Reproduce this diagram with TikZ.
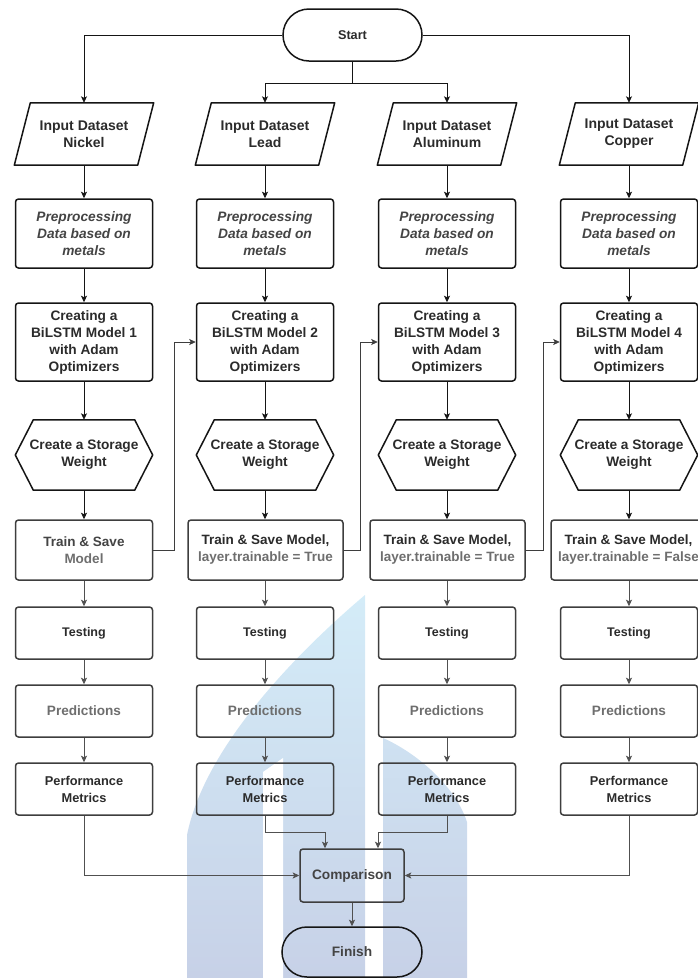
\documentclass[tikz,border=0pt]{standalone}
\usepackage{fontspec}
\setmainfont{Liberation Sans}
\usetikzlibrary{arrows.meta,shapes.misc}
\definecolor{wmtop}{HTML}{D4ECF8}
\definecolor{wmbot}{HTML}{C7D1E7}
\definecolor{tdark}{HTML}{2B2B2B}
\definecolor{tmid}{HTML}{444444}
\definecolor{tlight}{HTML}{6E6E6E}
\definecolor{edark}{HTML}{151515}
\definecolor{egrey}{HTML}{3E3E3E}
\definecolor{agrey}{HTML}{505050}
\begin{document}
\begin{tikzpicture}[x=1pt,y=-1pt,
  every node/.style={inner sep=0pt, align=center},
  txt/.style={font=\fontsize{#1}{17}\selectfont\bfseries},
  txt/.default=13.7,
  term/.style={rounded rectangle, draw=edark, line width=1.5pt, minimum width=139pt, minimum height=52pt, txt, text=tdark},
  io/.style={rectangle, minimum width=123pt, minimum height=62pt, txt=14, text=tdark},
  iofr/.style={draw=edark, line width=1.5pt, line join=round},
  proc/.style={rectangle, rounded corners=3pt, draw=edark, line width=1.5pt, minimum width=137pt, txt, text=tdark},
  procg/.style={rectangle, rounded corners=3pt, draw=egrey, line width=1.5pt, minimum width=137pt, minimum height=52pt, txt, text=tdark},
  hexbox/.style={rectangle, minimum width=137pt, minimum height=70pt, txt, text=tdark},
  arr/.style={draw=edark, line width=0.8pt, -{Stealth[length=6.5pt,width=6pt,inset=1.5pt]}},
  arrg/.style={draw=agrey, line width=0.8pt, -{Stealth[length=6.5pt,width=6pt,inset=1.5pt]}},
]
\useasboundingbox (0,0) rectangle (697,978);
% watermark
\shade[top color=wmtop, bottom color=wmbot] (365,595) .. controls (300,650) and (205,745) .. (187,835) -- (187,978) -- (365,978) -- cycle;
\fill[white] (263,978) -- (263,772) -- (283,758) -- (283,978) -- cycle;
\shade[top color=wmtop!60!wmbot, bottom color=wmbot] (383,738) .. controls (415,752) and (455,785) .. (467,822) -- (467,978) -- (383,978) -- cycle;

% start
\node[term, txt=12.7] (st) at (352.5,35) {Start};
% inputs
\node[io] (in1) at (84,134) {Input Dataset\\Nickel};
\node[io] (in2) at (265,134) {Input Dataset\\Lead};
\node[io] (in3) at (447,134) {Input Dataset\\Aluminum};
\node[io] (in4) at (629,134) {Input Dataset\\Copper};
\foreach \n in {in1,in2,in3,in4}
  \draw[iofr] ([xshift=-8pt]\n.south west) -- ([xshift=8pt]\n.north west) -- ([xshift=8pt]\n.north east) -- ([xshift=-8pt]\n.south east) -- cycle;
% preprocessing
\foreach \n/\x in {pr1/84,pr2/265,pr3/447,pr4/629}
  \node[proc, minimum height=69pt, font=\fontsize{13.7}{17}\selectfont\bfseries\itshape, text=tmid] (\n) at (\x,233.5) {Preprocessing\\Data based on\\metals};
% creating
\foreach \n/\x/\k in {cr1/84/1,cr2/265/2,cr3/447/3,cr4/629/4}
  \node[proc, minimum height=78pt] (\n) at (\x,342) {Creating a\\BiLSTM Model \k\\with Adam\\Optimizers};
% hexagons
\foreach \n/\x in {h1/84,h2/265,h3/447,h4/629}
  \node[hexbox] (\n) at (\x,455) {Create a Storage\\Weight};
\foreach \n in {h1,h2,h3,h4}
  \draw[iofr] (\n.west) -- ([xshift=18pt]\n.north west) -- ([xshift=-18pt]\n.north east) -- (\n.east) -- ([xshift=-18pt]\n.south east) -- ([xshift=18pt]\n.south west) -- cycle;
% train
\node[procg, minimum height=60pt, txt=13.5, text=tmid] (t1) at (84,550) {Train \& Save\\{\color{tlight}Model}};
\node[procg, minimum height=60pt, minimum width=155pt, txt=13.5] (t2) at (265.5,550) {Train \& Save Model,\\{\color{tlight}layer.trainable = True}};
\node[procg, minimum height=60pt, minimum width=155pt, txt=13.5] (t3) at (447.5,550) {Train \& Save Model,\\{\color{tlight}layer.trainable = True}};
\node[procg, minimum height=60pt, minimum width=155pt, txt=13.5] (t4) at (628.5,550) {Train \& Save Model,\\{\color{tlight}layer.trainable = False}};
% testing, predictions, metrics
\foreach \k/\x in {1/84,2/265,3/447,4/629}{
  \node[procg, txt=12.5] (te\k) at (\x,633) {Testing};
  \node[procg, txt=13.6, text=tlight] (pd\k) at (\x,711) {Predictions};
  \node[procg, txt=12.8] (pm\k) at (\x,789) {Performance\\Metrics};
}
% comparison and finish
\node[proc, minimum width=104pt, minimum height=53pt, draw=egrey, text=tmid] (cmp) at (352,875.5) {Comparison};
\node[term, minimum width=140pt, minimum height=50pt, text=tmid, draw=edark] (fin) at (352,952) {Finish};

% connectors from start
\draw[arr] (st.west) -| (in1.north);
\draw[arr] (st.east) -| (in4.north);
\draw[arr] (st.south) -- ++(0,22) -| (in2.north);
\draw[arr] (st.south) -- ++(0,22) -| (in3.north);
% column chains
\foreach \k in {1,2,3,4}{
  \draw[arr] (in\k.south) -- (pr\k.north);
  \draw[arr] (pr\k.south) -- (cr\k.north);
  \draw[arr] (cr\k.south) -- (h\k.north);
  \draw[arr] (h\k.south) -- (t\k.north -| h\k.south);
  \draw[arrg] (t\k.south -| te\k.north) -- (te\k.north);
  \draw[arrg] (te\k.south) -- (pd\k.north);
  \draw[arrg] (pd\k.south) -- (pm\k.north);
}
% train to next model
\draw[arr, draw=egrey] (t1.east) -- ++(21,0) |- (cr2.west);
\draw[arr, draw=egrey] (t2.east) -- ++(17,0) |- (cr3.west);
\draw[arr, draw=egrey] (t3.east) -- ++(18,0) |- (cr4.west);
% to comparison
\draw[arrg] (pm1.south) |- (cmp.west);
\draw[arrg] (pm4.south) |- (cmp.east);
\draw[arrg] (pm2.south) -- ++(0,17) -| ([xshift=-27pt]cmp.north);
\draw[arrg] (pm3.south) -- ++(0,17) -| ([xshift=26pt]cmp.north);
\draw[arrg] (cmp.south) -- (fin.north);
\end{tikzpicture}
\end{document}
